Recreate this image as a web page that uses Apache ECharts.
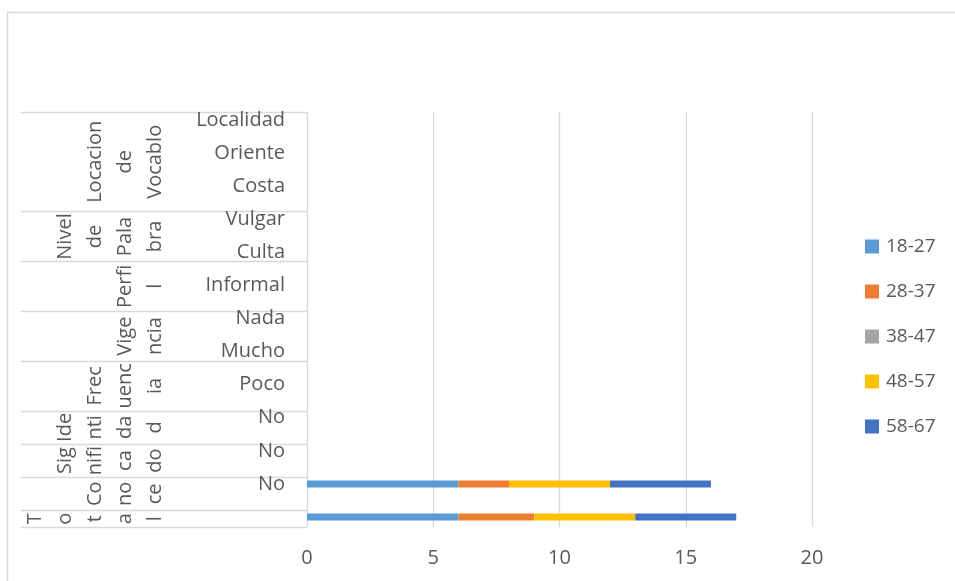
<!DOCTYPE html>
<html>
<head>
<meta charset="utf-8">
<script src="https://cdn.jsdelivr.net/npm/echarts@6/dist/echarts.min.js"></script>
<style>
  html, body { margin: 0; padding: 0; background: #ffffff; }
  #chart { width: 955px; height: 581px; }
</style>
</head>
<body>
<div id="chart"></div>
<script>
// Leaf categories, listed top to bottom
const categories = ['Localidad', 'Oriente', 'Costa', 'Vulgar', 'Culta', 'Informal',
  'Nada', 'Mucho', 'Poco', 'No', 'No', 'No', ''];

// Age brackets (series)
const seriesNames = ['18-27', '28-37', '38-47', '48-57', '58-67'];
const values1827 = [null, null, null, null, null, null, null, null, null, null, null, 6, 6];
const values2837 = [null, null, null, null, null, null, null, null, null, null, null, 2, 3];
const values3847 = [null, null, null, null, null, null, null, null, null, null, null, 0, 0];
const values4857 = [null, null, null, null, null, null, null, null, null, null, null, 4, 4];
const values5867 = [null, null, null, null, null, null, null, null, null, null, null, 4, 4];

// Outer category groups (wrapped text) and how many half-row slots each spans
const groupLabels = ['Locacion\nde\nVocablo', 'Nivel\nde\nPala\nbra', 'Perfi\nl', 'Vige\nncia',
  'Frec\nuenc\nia', 'Ide\nnti\nda\nd', 'Sig\nnifi\nca\ndo', 'Co\nno\nce', 'T\no\nt\na\nl'];
const groupSpans = [6, 3, 3, 3, 3, 2, 2, 2, 1];

// Value axis ticks
const xMin = 0, xMax = 20, xStep = 5;

const colors = ['#5B9BD5', '#ED7D31', '#A5A5A5', '#FFC000', '#4472C4'];
const seriesValues = [values1827, values2837, values3847, values4857, values5867];
const FONT = '"Open Sans", sans-serif';
const TXT = '#595959';
const GRID_LINE = '#D9D9D9';

// Build half-step positions of the group axis: label at each group's middle,
// separators at each group's edges.
const totalSlots = groupSpans.reduce((a, b) => a + b, 0);
const groupAxisData = new Array(totalSlots * 2 + 1).fill('');
const separatorIdx = new Set([0]);
let acc = 0;
groupSpans.forEach((span, i) => {
  groupAxisData[acc * 2 + span] = groupLabels[i];
  acc += span;
  separatorIdx.add(acc * 2);
});

const chart = echarts.init(document.getElementById('chart'), null, { renderer: 'canvas' });

const option = {
  animation: false,
  backgroundColor: '#ffffff',
  color: colors,
  textStyle: { fontFamily: FONT, color: TXT },
  graphic: [{
    type: 'rect',
    shape: { x: 7.5, y: 12.5, width: 1000, height: 700 },
    style: { fill: 'none', stroke: GRID_LINE, lineWidth: 1.5 },
    silent: true
  }],
  legend: {
    orient: 'vertical',
    left: 865,
    top: 237,
    padding: 0,
    itemWidth: 14,
    itemHeight: 14,
    itemGap: 26,
    icon: 'rect',
    data: seriesNames,
    textStyle: { fontFamily: FONT, fontSize: 19, color: TXT, padding: [0, 0, 0, 2] }
  },
  grid: [
    // bars
    { left: 307, right: 143, top: 103.5, bottom: 47.5, containLabel: false, outerBoundsMode: 'none' },
    // vertical gridlines
    { left: 307, right: 143, top: 112, bottom: 54, containLabel: false, outerBoundsMode: 'none' },
    // group labels and separators
    { left: 21, right: 648, top: 112, bottom: 54, containLabel: false, outerBoundsMode: 'none' }
  ],
  xAxis: [
    {
      gridIndex: 0, type: 'value', min: xMin, max: xMax, interval: xStep,
      axisLine: { show: false }, axisTick: { show: false }, splitLine: { show: false },
      axisLabel: { fontFamily: FONT, fontSize: 20, color: TXT, margin: 15 }
    },
    {
      gridIndex: 1, type: 'value', min: xMin, max: xMax, interval: xStep,
      axisLine: { show: false }, axisTick: { show: false }, axisLabel: { show: false },
      splitLine: { show: true, lineStyle: { color: GRID_LINE, width: 1.3 } }
    },
    {
      gridIndex: 2, type: 'value', show: false, min: 0, max: 1
    }
  ],
  yAxis: [
    {
      gridIndex: 0, type: 'category', inverse: true, data: categories,
      axisLine: { show: false }, axisTick: { show: false }, splitLine: { show: false },
      axisLabel: { interval: 0, fontFamily: FONT, fontSize: 20, color: TXT, margin: 22 }
    },
    {
      gridIndex: 1, type: 'category', inverse: true, data: categories, show: false
    },
    {
      gridIndex: 2, type: 'category', position: 'right', inverse: true, boundaryGap: false,
      data: groupAxisData,
      axisLine: { show: false }, axisTick: { show: false },
      splitLine: {
        show: true,
        interval: (idx) => separatorIdx.has(idx),
        lineStyle: { color: GRID_LINE, width: 1.3 }
      },
      axisLabel: {
        inside: true, interval: 0, rotate: 90, margin: 137,
        fontFamily: FONT, fontSize: 20, color: TXT, lineHeight: 30
      }
    }
  ],
  series: seriesNames.map((name, i) => ({
    name,
    type: 'bar',
    stack: 'total',
    xAxisIndex: 0,
    yAxisIndex: 0,
    barWidth: 7,
    data: seriesValues[i],
    itemStyle: { color: colors[i] }
  }))
};

chart.setOption(option);
</script>
</body>
</html>
